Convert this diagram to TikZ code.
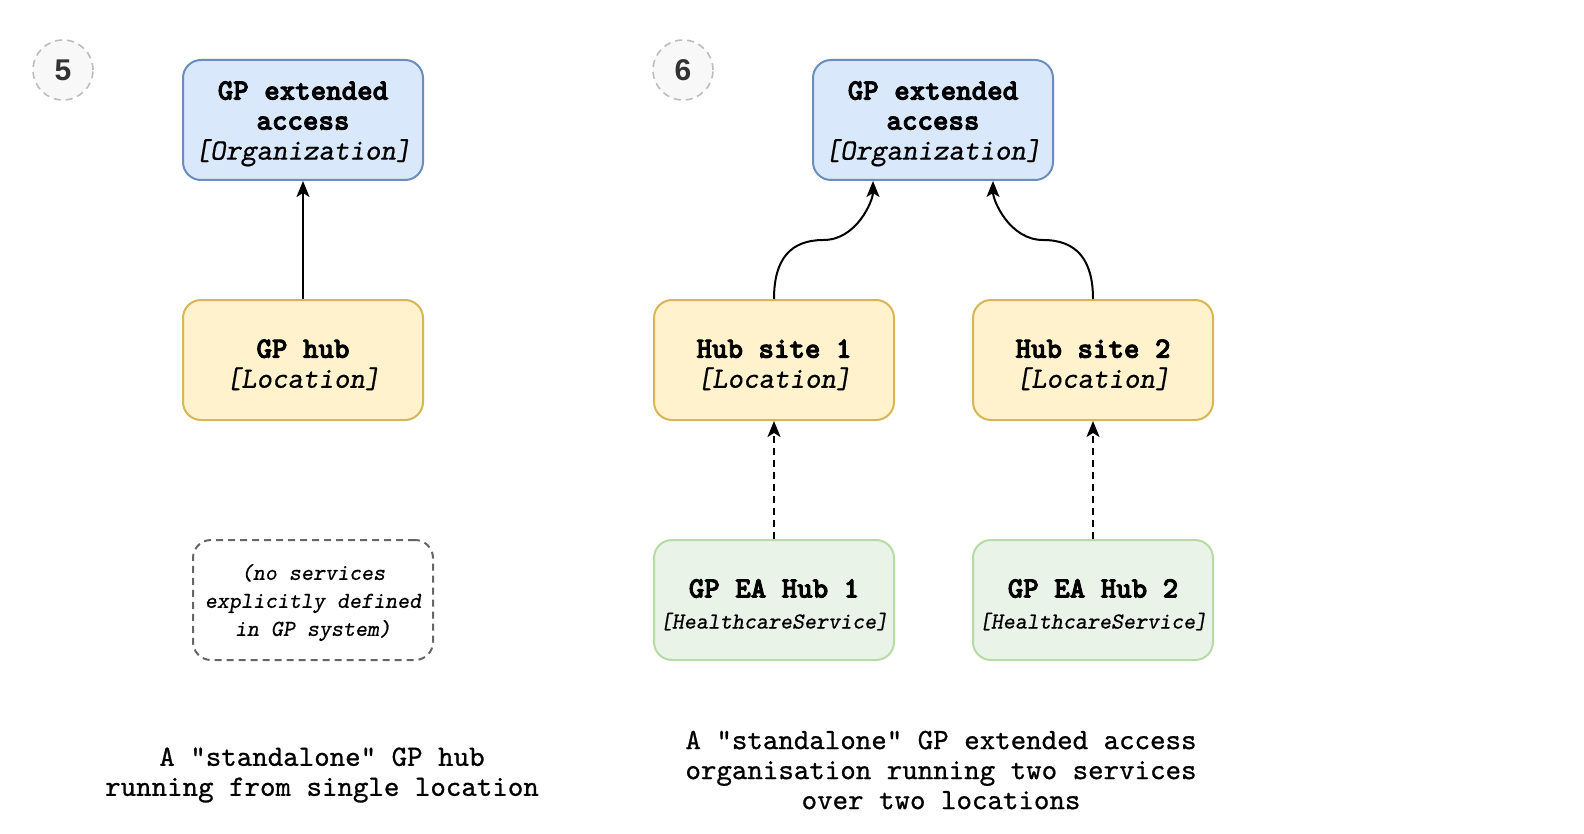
\documentclass[tikz,border=0pt]{standalone}
\usepackage{fontspec}
\usetikzlibrary{arrows.meta,calc}
% slab-serif typewriter faces: upright, bold, and oblique (thickened a little)
\newfontfamily\monofont{lmmono10-regular}[Extension=.otf,
  UprightFeatures={FakeBold=0.8},
  BoldFont=lmmonolt10-bold, BoldFeatures={FakeBold=3},
  ItalicFont=lmmonoslant10-regular, ItalicFeatures={FakeBold=0.6},
  BoldItalicFont=lmmonolt10-boldoblique]
\newfontfamily\numfont{Liberation Sans}
\definecolor{orgfill}{HTML}{DAE8FC}
\definecolor{orgline}{HTML}{6C8EBF}
\definecolor{locfill}{HTML}{FFF2CC}
\definecolor{locline}{HTML}{D6B656}
\definecolor{svcfill}{HTML}{E9F3E7}
\definecolor{svcline}{HTML}{B7DAA6}
\definecolor{noteline}{HTML}{666666}
\definecolor{badgefill}{HTML}{F8F8F8}
\definecolor{badgeline}{HTML}{BDBDBD}
\definecolor{badgetext}{HTML}{333333}
% strut that sets the height of a card's first line
\newcommand\toprow[1]{\rule{0pt}{#1}}
\tikzset{
  card/.style={rectangle, rounded corners=18pt, minimum width=240pt, minimum height=120pt,
    inner sep=0pt, line width=2pt, align=center, text=black,
    font=\monofont\fontsize{29.5}{30}\selectfont},
  orgbox/.style={card, fill=orgfill, draw=orgline},
  locbox/.style={card, fill=locfill, draw=locline},
  svcbox/.style={card, fill=svcfill, draw=svcline},
  notebox/.style={card, fill=white, draw=noteline, dash pattern=on 7pt off 5pt,
    font=\monofont\fontsize{22.9}{28}\selectfont},
  badge/.style={circle, minimum size=60pt, inner sep=0pt, line width=1.6pt,
    fill=badgefill, draw=badgeline, dash pattern=on 7pt off 5pt,
    text=badgetext, font=\numfont\bfseries\fontsize{30}{30}\selectfont},
  caption/.style={align=center, inner sep=0pt, text=black,
    font=\monofont\fontsize{29.5}{30}\selectfont},
  link/.style={line width=2pt, draw=black, -{Stealth[length=16pt, width=13pt, inset=4pt]}},
  weaklink/.style={link, dash pattern=on 7pt off 5pt},
}
\begin{document}
\begin{tikzpicture}[x=1pt, y=-1pt]
  \useasboundingbox (0,0) rectangle (1584,834);

  % --- scenario 5: one hub at a single location
  \node[badge] (b5) at (63,70) {5};
  \node[orgbox] (ea1) at (303,120) {\toprow{26pt}\textbf{GP extended}\\\textbf{access}\\\textit{[Organization]}};
  \node[locbox] (hub) at (303,360) {\toprow{28pt}\textbf{GP hub}\\\textit{[Location]}};
  \node[notebox] (note) at (313,600) {\toprow{21pt}\textit{(no services}\\\textit{explicitly defined}\\\textit{in GP system)}};
  \node[caption] (cap5) at (322,775) {A "standalone" GP hub\\running from single location};

  \draw[link] (hub.north) -- (ea1.south);

  % --- scenario 6: one organisation, two sites, two services
  \node[badge] (b6) at (683,70) {6};
  \node[orgbox] (ea2) at (933,120) {\toprow{26pt}\textbf{GP extended}\\\textbf{access}\\\textit{[Organization]}};
  \node[locbox] (hs1) at (774,360) {\toprow{28pt}\textbf{Hub site 1}\\\textit{[Location]}};
  \node[locbox] (hs2) at (1093,360) {\toprow{28pt}\textbf{Hub site 2}\\\textit{[Location]}};
  \node[svcbox] (sv1) at (774,600) {\toprow{28pt}\textbf{GP EA Hub 1}\\[1pt]{\fontsize{22.9}{24}\selectfont\textit{[HealthcareService]}}};
  \node[svcbox] (sv2) at (1093,600) {\toprow{28pt}\textbf{GP EA Hub 2}\\[1pt]{\fontsize{22.9}{24}\selectfont\textit{[HealthcareService]}}};
  \node[caption] (cap6) at (941,770) {A "standalone" GP extended access\\organisation running two services\\over two locations};

  % entry points on the organisation box and bend points of the curved links
  \coordinate (in1) at ($(ea2.south)+(-60,0)$);
  \coordinate (in2) at ($(ea2.south)+(60,0)$);
  \coordinate (m1) at ($(hs1.north)!0.5!(in1)$);
  \coordinate (m2) at ($(hs2.north)!0.5!(in2)$);

  \draw[link] (hs1.north) .. controls +(0,-40) and +(-33,0) .. (m1)
                          .. controls +(33,0) and +(0,20) .. (in1);
  \draw[link] (hs2.north) .. controls +(0,-40) and +(33,0) .. (m2)
                          .. controls +(-33,0) and +(0,20) .. (in2);

  \draw[weaklink] (sv1.north) -- (hs1.south);
  \draw[weaklink] (sv2.north) -- (hs2.south);
\end{tikzpicture}
\end{document}
